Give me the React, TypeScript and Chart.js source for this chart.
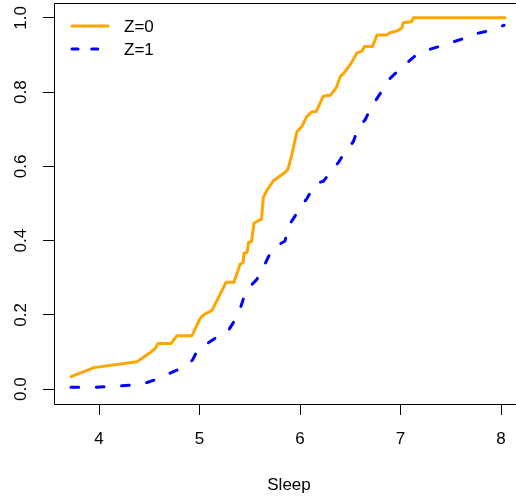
import React, { useEffect, useRef } from "react";
import { Chart, registerables } from "chart.js";

Chart.register(...registerables);

// ---- data ----
const seriesNames = ["Z=0", "Z=1"];
const seriesColors = ["#FFA500", "#0000FF"];

const z0X = [3.721, 3.95, 4.378, 4.507, 4.557, 4.587, 4.716, 4.776, 4.925, 5.005, 5.045, 5.124, 5.234, 5.264, 5.343, 5.403, 5.433, 5.443, 5.473, 5.488, 5.517, 5.542, 5.592, 5.617, 5.635, 5.672, 5.734, 5.771, 5.851, 5.881, 5.92, 5.945, 5.97, 6.017, 6.067, 6.117, 6.159, 6.232, 6.305, 6.365, 6.398, 6.438, 6.514, 6.564, 6.617, 6.642, 6.721, 6.766, 6.861, 6.896, 6.965, 7.012, 7.028, 7.111, 7.127, 8.04];
const z0Y = [0.034, 0.058, 0.074, 0.098, 0.109, 0.123, 0.123, 0.144, 0.144, 0.19, 0.201, 0.212, 0.271, 0.288, 0.288, 0.336, 0.341, 0.366, 0.368, 0.395, 0.398, 0.447, 0.455, 0.458, 0.517, 0.536, 0.561, 0.568, 0.584, 0.593, 0.633, 0.665, 0.694, 0.707, 0.734, 0.747, 0.747, 0.789, 0.792, 0.814, 0.841, 0.852, 0.88, 0.905, 0.911, 0.923, 0.923, 0.954, 0.954, 0.96, 0.965, 0.972, 0.987, 0.99, 1.0, 1.0];

const z1X = [3.721, 3.831, 3.97, 4.08, 4.229, 4.328, 4.408, 4.478, 4.577, 4.706, 4.806, 4.876, 4.93, 4.978, 5.035, 5.095, 5.171, 5.224, 5.287, 5.338, 5.403, 5.436, 5.502, 5.569, 5.635, 5.685, 5.722, 5.768, 5.851, 5.884, 5.94, 6.017, 6.07, 6.109, 6.149, 6.232, 6.279, 6.325, 6.381, 6.463, 6.53, 6.58, 6.647, 6.713, 6.766, 6.846, 6.896, 6.99, 7.062, 7.177, 7.277, 7.41, 7.51, 7.659, 7.741, 7.891, 7.997, 8.03];
const z1Y = [0.005, 0.005, 0.005, 0.007, 0.009, 0.011, 0.013, 0.018, 0.027, 0.043, 0.055, 0.066, 0.078, 0.104, 0.117, 0.126, 0.14, 0.147, 0.158, 0.18, 0.216, 0.243, 0.277, 0.295, 0.328, 0.356, 0.374, 0.386, 0.399, 0.439, 0.462, 0.495, 0.514, 0.533, 0.553, 0.56, 0.576, 0.592, 0.61, 0.646, 0.666, 0.705, 0.725, 0.761, 0.783, 0.816, 0.837, 0.861, 0.878, 0.905, 0.914, 0.925, 0.934, 0.947, 0.957, 0.966, 0.977, 0.98];

const xTicks = [4, 5, 6, 7, 8];
const xTickLabels = ["4", "5", "6", "7", "8"];
const yTicks = [0, 0.2, 0.4, 0.6, 0.8, 1.0];
const yTickLabels = ["0.0", "0.2", "0.4", "0.6", "0.8", "1.0"];
const xTitle = "Sleep";
// visible x window, and the full (R-style) plot x range used to centre the title
const xRange = [3.552, 8.149];
const plotXMax = 8.229;
const yRange = [-0.04, 1.04];

const FONT = '"Liberation Sans", Arial, Helvetica, sans-serif';
const FS = 17;

export default function App() {
  const ref = useRef<HTMLCanvasElement>(null);

  useEffect(() => {
    if (!ref.current) return;

    const frame = {
      id: "frame",
      afterDraw(chart: any) {
        const { ctx, chartArea: a } = chart;
        ctx.save();
        ctx.strokeStyle = "#000";
        ctx.lineWidth = 1;
        ctx.beginPath();
        ctx.moveTo(a.right + 10, a.top + 0.5);
        ctx.lineTo(a.left + 0.5, a.top + 0.5);
        ctx.lineTo(a.left + 0.5, a.bottom + 0.5);
        ctx.lineTo(a.right + 10, a.bottom + 0.5);
        ctx.stroke();
        // rotated y tick labels
        const ys = chart.scales.y;
        const xs = chart.scales.x;
        ctx.fillStyle = "#000";
        ctx.font = `${FS}px ${FONT}`;
        ctx.textAlign = "center";
        ctx.textBaseline = "middle";
        yTicks.forEach((v, i) => {
          const py = ys.getPixelForValue(v);
          ctx.save();
          ctx.translate(21, py);
          ctx.rotate(-Math.PI / 2);
          ctx.fillText(yTickLabels[i], 0, 0);
          ctx.restore();
        });
        // x axis title, centred on the full plot region
        const cx = (a.left + xs.getPixelForValue(plotXMax)) / 2;
        ctx.fillText(xTitle, cx, 485);
        // legend
        chart.data.datasets.forEach((ds: any, i: number) => {
          const y = 26 + i * 23;
          ctx.save();
          ctx.strokeStyle = ds.borderColor;
          ctx.lineWidth = ds.borderWidth;
          ctx.lineCap = "round";
          ctx.setLineDash(i === 1 ? [6, 13.7] : []);
          ctx.beginPath();
          ctx.moveTo(72, y);
          ctx.lineTo(108, y);
          ctx.stroke();
          ctx.restore();
          ctx.fillStyle = "#000";
          ctx.textAlign = "left";
          ctx.textBaseline = "middle";
          ctx.fillText(ds.label, 124, y + 1);
        });
        ctx.restore();
      },
    };

    const chart = new Chart(ref.current, {
      type: "line",
      data: {
        datasets: [
          {
            label: seriesNames[0],
            data: z0X.map((x, i) => ({ x, y: z0Y[i] })),
            borderColor: seriesColors[0],
            borderWidth: 3,
            pointRadius: 0,
            tension: 0,
            borderJoinStyle: "round",
            borderCapStyle: "round",
          },
          {
            label: seriesNames[1],
            data: z1X.map((x, i) => ({ x, y: z1Y[i] })),
            borderColor: seriesColors[1],
            borderWidth: 3,
            borderDash: [7.7, 17.6],
            pointRadius: 0,
            tension: 0,
            borderJoinStyle: "round",
            borderCapStyle: "round",
          },
        ],
      },
      options: {
        animation: false,
        responsive: false,
        devicePixelRatio: 1,
        layout: { padding: { top: 3, right: 0, left: 0, bottom: 0 } },
        plugins: { legend: { display: false }, tooltip: { enabled: false } },
        scales: {
          x: {
            type: "linear",
            min: xRange[0],
            max: xRange[1],
            afterBuildTicks: (s: any) => {
              s.ticks = xTicks.map((v) => ({ value: v }));
            },
            afterFit: (s: any) => {
              s.height = 98;
              s.paddingLeft = 0;
              s.paddingRight = 0;
            },
            ticks: {
              font: { size: FS, family: FONT },
              color: "#000",
              padding: 14,
              maxRotation: 0,
              autoSkip: false,
              callback: (v: any) => {
                const i = xTicks.indexOf(Number(v));
                return i >= 0 ? xTickLabels[i] : "";
              },
            },
            grid: { drawOnChartArea: false, drawTicks: true, tickLength: 11, color: "#000" },
            border: { display: false },
          },
          y: {
            type: "linear",
            min: yRange[0],
            max: yRange[1],
            afterBuildTicks: (s: any) => {
              s.ticks = yTicks.map((v) => ({ value: v }));
            },
            afterFit: (s: any) => {
              s.width = 54;
              s.paddingTop = 0;
              s.paddingBottom = 0;
            },
            ticks: { color: "rgba(0,0,0,0)", font: { size: FS, family: FONT } },
            grid: { drawOnChartArea: false, drawTicks: true, tickLength: 11, color: "#000" },
            border: { display: false },
          },
        },
      },
      plugins: [frame],
    } as any);

    return () => chart.destroy();
  }, []);

  return (
    <div style={{ position: "fixed", left: 0, top: 0, width: 516, height: 502, background: "#fff" }}>
      <canvas ref={ref} width={516} height={502} style={{ display: "block" }} />
    </div>
  );
}
